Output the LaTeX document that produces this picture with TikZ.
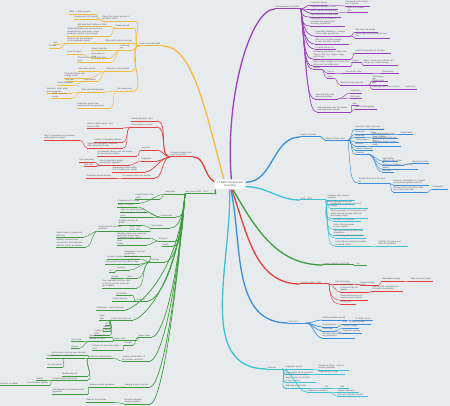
\documentclass[tikz,border=0pt]{standalone}
\usepackage{fontspec}
\setmainfont{Liberation Sans}
\definecolor{bg}{HTML}{E7EBEE}
\definecolor{txt}{HTML}{505559}
\definecolor{yelc}{HTML}{F6BA3C}
\definecolor{purc}{HTML}{9C3FBF}
\definecolor{redc}{HTML}{E2403F}
\definecolor{grnc}{HTML}{3E9C3E}
\definecolor{bluc}{HTML}{3B8EDB}
\definecolor{cync}{HTML}{3FC0D3}

\begin{document}
\begin{tikzpicture}[x=1pt,y=1pt,
  tp/.style={font=\fontsize{2.1}{2.9}\selectfont, text=txt, inner xsep=0.3pt, inner ysep=0.45pt, align=left},
  uline/.style={append after command={(\tikzlastnode.south west) edge[draw=#1, line width=0.45pt] (\tikzlastnode.south east)}},
  mline/.style={append after command={(\tikzlastnode.south west) edge[draw=#1, line width=1pt] (\tikzlastnode.south east)}},
  lt/.style={tp, anchor=south east, uline=#1},
  rt/.style={tp, anchor=south west, uline=#1},
  lm/.style={tp, anchor=south east, mline=#1},
  rm/.style={tp, anchor=south west, mline=#1},
  l1/.style={draw=#1, line width=1.3pt},
  l2/.style={draw=#1, line width=0.7pt},
  l3/.style={draw=#1, line width=0.45pt},
  lc/.style={out=180,in=0,looseness=0.8},
  rc/.style={out=0,in=180,looseness=0.8},
  gd/.style={out=-95,in=0,out distance=#1,in distance=8pt},
  pd/.style={out=-85,in=180,out distance=#1,in distance=8pt},
]
\path[use as bounding box, fill=bg] (0,0) rectangle (450,-406);

% centre
\node[fill=white, draw=black!12, rounded corners=1.5pt, font=\fontsize{2.8}{3.4}\selectfont, text=txt,
  align=center, minimum width=31pt, minimum height=10pt, inner sep=0.5pt] (core) at (230,-184.5)
  {7.7 Billion People and\\Counting};

% yellow branch
\node[lm=yelc, text width=23pt] (y0) at (163,-46) {Logics of growth 1800};
\node[lt=yelc, text width=32pt] (y1) at (135,-21) {One of the fastest periods of\\growth in history};
\node[lt=yelc, text width=25pt] (y1a) at (95,-14) {1800 - 1 billion people};
\node[lt=yelc, text width=25pt] (y1b) at (100,-19) {Europe was 1/4 of world};
\node[lt=yelc, text width=17pt] (y2) at (133,-28) {Organic growth};
\node[lt=yelc, text width=32pt] (y2a) at (110,-26) {With less than 3 billion in 1950};
\node[lt=yelc, text width=42pt] (y2b) at (110,-36) {Global population was low and more\\people lived in rural areas. Food\\production limited to local needs};
\node[lt=yelc, text width=27pt] (y3) at (133,-43) {Where birth rate is reducing};
\node[lt=yelc, text width=32pt] (y3a) at (100,-43) {Based in the first world but\\not in population growth};
\node[lt=yelc, text width=6pt] (y3a1) at (60,-44) {Asia};
\node[lt=yelc, text width=10pt] (y3a2) at (60,-48) {Europe};
\node[lt=yelc, text width=11pt] (y4) at (132,-50) {Food supply};
\node[lt=yelc, text width=18pt] (y4a) at (110,-50) {Green revolution};
\node[lt=yelc, text width=18pt] (y4b) at (110,-58) {Economies of scale};
\node[lt=yelc, text width=14pt] (y4b1) at (82,-54) {Less 10 crops};
\node[lt=yelc, text width=34pt] (y4c) at (112,-62) {China the second largest grain store};
\node[lt=yelc, text width=25pt] (y5) at (132,-71) {Reasons for fast growth};
\node[lt=yelc, text width=18pt] (y5a) at (97,-71) {Fast urban growth};
\node[lt=yelc, text width=13pt] (y5b) at (98,-81) {Less deaths};
\node[lt=yelc, text width=25pt] (y5b1) at (90,-78) {Food abundance and\\change in diet};
\node[lt=yelc, text width=9pt] (y5b2) at (75,-81) {Birth rate};
\node[lt=yelc, text width=17pt] (y5b3) at (75,-85) {Living standards};
\node[lt=yelc, text width=15pt] (y6) at (133,-91) {Life expectancy};
\node[lt=yelc, text width=23pt] (y6a) at (105,-92) {Rose with development};
\node[lt=yelc, text width=25pt] (y6a1) at (72,-93) {Sanitation, clean water\\and vaccination};
\node[lt=yelc, text width=19pt] (y6a2) at (72,-98) {1950 - improvements};
\node[lt=yelc, text width=32pt] (y6b) at (110,-108) {Population growth rate\\compared to life expectancy};

\draw[l1=yelc] (core.140) to[out=105,in=0,out distance=70pt,in distance=30pt] (y0.south east);
\foreach \k in {y1,y2,y3,y4,y5,y6} \draw[l2=yelc] (y0.south west) to[lc] (\k.south east);
\foreach \k in {y1a,y1b} \draw[l3=yelc] (y1.south west) to[lc] (\k.south east);
\foreach \k in {y2a,y2b} \draw[l3=yelc] (y2.south west) to[lc] (\k.south east);
\draw[l3=yelc] (y3.south west) to[lc] (y3a.south east);
\foreach \k in {y3a1,y3a2} \draw[l3=yelc] (y3a.south west) to[lc] (\k.south east);
\foreach \k in {y4a,y4b,y4c} \draw[l3=yelc] (y4.south west) to[lc] (\k.south east);
\draw[l3=yelc] (y4b.south west) to[lc] (y4b1.south east);
\foreach \k in {y5a,y5b,y5b1} \draw[l3=yelc] (y5.south west) to[lc] (\k.south east);
\foreach \k in {y5b2,y5b3} \draw[l3=yelc] (y5b.south west) to[lc] (\k.south east);
\foreach \k in {y6a,y6b} \draw[l3=yelc] (y6.south west) to[lc] (\k.south east);
\foreach \k in {y6a1,y6a2} \draw[l3=yelc] (y6a.south west) to[lc] (\k.south east);

% purple branch
\node[rm=purc, text width=25pt] (p0) at (275,-9) {Consequences of growth};
\node[rt=purc, text width=17pt] (p1) at (310,-5) {Population figures};
\node[rt=purc, text width=24pt] (p1a) at (345,-6) {Compared to the fastest\\rate of growth};
\node[rt=purc, text width=27pt] (p2) at (310,-9) {Population density of cities};
\node[rt=purc, text width=27pt] (p3) at (310,-13) {Africa's people being young};
\node[rt=purc, text width=20pt] (p3a) at (347,-12) {Against economic data};
\node[rt=purc, text width=30pt] (p4) at (310,-17) {High population in third world};
\node[rt=purc, text width=34pt] (p5) at (310,-26) {Challenges for a number of\\countries with ageing and\\shrinking populations};
\node[rt=purc, text width=35pt] (p6) at (315,-36) {Population imbalance - younger\\versus older generations};
\node[rt=purc, text width=22pt] (p6a) at (355,-32) {Too many old people};
\node[rt=purc, text width=34pt] (p6b) at (355,-38) {Not enough young people to support};
\node[rt=purc, text width=33pt] (p7) at (315,-44) {With over 5.4 billion people\\in Asia and Africa together};
\node[rt=purc, text width=20pt] (p8) at (315,-49) {US birth rate at 2.2};
\node[rt=purc, text width=37pt] (p9) at (313,-59) {Increasing population in Africa and\\Asia to 2100 (e.g. Nigeria, Niger\\and Congo)};
\node[rt=purc, text width=35pt] (p9a) at (355,-53) {UN 2100 projection of 11 billion};
\node[rt=purc, text width=37pt] (p10) at (313,-66) {Half a million refugees in Europe from\\Africa and the Middle East};
\node[rt=purc, text width=8pt] (p10a) at (352,-62) {Cause};
\node[rt=purc, text width=34pt] (p10a1) at (363,-65) {Death in very poor and war torn\\nations (ex. South Sudan)};
\node[rt=purc, text width=7pt] (p11) at (313,-69) {Trends};
\node[rt=purc, text width=7pt] (p11a) at (327,-73) {Live in};
\node[rt=purc, text width=25pt] (p11a1) at (345,-73) {Forced into cities};
\node[rt=purc, text width=16pt] (p11a1a) at (382,-73) {Households};
\node[rt=purc, text width=6pt] (p11b) at (327,-78) {Work};
\node[rt=purc, text width=28pt] (p11b1) at (340,-85) {Women's lower pay rate};
\node[rt=purc, text width=15pt] (p11b1a) at (372,-81) {Closing pay gap};
\node[rt=purc, text width=15pt] (p11b1b) at (372,-85) {Closing jobs gap};
\node[rt=purc, text width=28pt] (p11b1c) at (372,-89) {Reducing work time in home};
\node[rt=purc, text width=11pt] (p11b1c1) at (405,-89) {Spent less};
\node[rt=purc, text width=22pt] (p12) at (315,-99) {Reducing birth rates\\ageing population};
\node[rt=purc, text width=11pt] (p12a) at (350,-93) {Population};
\node[rt=purc, text width=11pt] (p12b) at (350,-98) {Birth rates};
\node[rt=purc, text width=33pt] (p13) at (317,-112) {Reducing birth rates to stabilise\\world population growth};
\node[rt=purc, text width=6pt] (p13a) at (352,-105) {Asia};
\node[rt=purc, text width=21pt] (p13b) at (355,-109) {Shift of demography};

\draw[l1=purc] (core.75) to[out=95,in=180,out distance=80pt,in distance=25pt] (p0.south west);
\foreach \k in {p1,p2,p3} \draw[l2=purc] (p0.south east) to[rc] (\k.south west);
\foreach \k/\s in {p4/5,p5/12,p6/20,p7/27,p8/31,p9/39,p10/44,p11/47,p12/70,p13/80}
  \draw[l2=purc] (p0.south east) to[pd=\s pt] (\k.south west);
\draw[l3=purc] (p1.south east) to[rc] (p1a.south west);
\draw[l3=purc] (p3.south east) to[rc] (p3a.south west);
\foreach \k in {p6a,p6b} \draw[l3=purc] (p6.south east) to[rc] (\k.south west);
\draw[l3=purc] (p9.south east) to[rc] (p9a.south west);
\draw[l3=purc] (p10.south east) to[rc] (p10a.south west);
\draw[l3=purc] (p10a.south east) to[rc] (p10a1.south west);
\foreach \k in {p11a,p11b} \draw[l3=purc] (p11.south east) to[rc] (\k.south west);
\draw[l3=purc] (p11a.south east) to[rc] (p11a1.south west);
\draw[l3=purc] (p11a1.south east) to[rc] (p11a1a.south west);
\draw[l3=purc] (p11b.south east) to[rc] (p11b1.south west);
\foreach \k in {p11b1a,p11b1b,p11b1c} \draw[l3=purc] (p11b1.south east) to[rc] (\k.south west);
\draw[l3=purc] (p11b1c.south east) to[rc] (p11b1c1.south west);
\foreach \k in {p12a,p12b} \draw[l3=purc] (p12.south east) to[rc] (\k.south west);
\foreach \k in {p13a,p13b} \draw[l3=purc] (p13.south east) to[rc] (\k.south west);

% red branch
\node[lm=redc, text width=22pt] (r0) at (193,-157) {Personal situation and\\existing opinions};
\node[lt=redc, text width=25pt] (r1) at (157,-121) {World population clock};
\node[lt=redc, text width=25pt] (r2) at (157,-127) {Good reference points};
\node[lt=redc, text width=35pt] (r2a) at (123,-128) {Nearly 3 billion when I was\\born in 1960};
\node[lt=redc, text width=28pt] (r2b) at (123,-142) {Politics of 'Population Bomb'};
\node[lt=redc, text width=35pt] (r2c) at (123,-148) {Significant population slowdown\\with reducing birth rate};
\node[lt=redc, text width=35pt] (r2c1) at (80,-140) {Why? Population has increased\\and people live longer};
\node[lt=redc, text width=15pt] (r3) at (157,-150) {Key facts};
\node[lt=redc, text width=39pt] (r3a) at (137,-156) {UN research shows most rise during\\the development phase};
\node[lt=redc, text width=15pt] (r4) at (157,-161) {Population};
\node[lt=redc, text width=30pt] (r4a) at (130,-165) {How is population growth\\and decline regulated?};
\node[lt=redc, text width=15pt] (r4a1) at (95,-162) {Life expectancy};
\node[lt=redc, text width=12pt] (r4a2) at (97,-166) {Birth rate};
\node[lt=redc, text width=32pt] (r5) at (145,-172) {Replacement level fertility\\of 2.1 children per woman};
\node[lt=redc, text width=32pt] (r6) at (155,-178) {2.5 average births per woman};
\node[lt=redc, text width=28pt] (r6a) at (115,-178) {Population growth slowing};

\draw[l1=redc] (core.170) to[out=150,in=0] (r0.south east);
\foreach \k in {r1,r2,r3,r4,r5,r6} \draw[l2=redc] (r0.south west) to[lc] (\k.south east);
\foreach \k in {r2a,r2b,r2c} \draw[l3=redc] (r2.south west) to[lc] (\k.south east);
\draw[l3=redc] (r2c.south west) to[lc] (r2c1.south east);
\draw[l3=redc] (r3.south west) to[lc] (r3a.south east);
\draw[l3=redc] (r4.south west) to[lc] (r4a.south east);
\foreach \k in {r4a1,r4a2} \draw[l3=redc] (r4a.south west) to[lc] (\k.south east);
\draw[l3=redc] (r6.south west) to[lc] (r6a.south east);

% green branch
\node[lm=grnc, text width=29pt] (g0) at (215,-194) {Key issues 2050 - 2100};
\node[lt=grnc, text width=16pt] (g1) at (182,-194) {Megacities};
\node[lt=grnc, text width=24pt] (g1a) at (160,-199) {Largest cities of the world};
\node[lt=grnc, text width=21pt] (g1b) at (140,-203) {Population of 5 million};
\node[lt=grnc, text width=15pt] (g2) at (176,-217) {Urbanisation};
\node[lt=grnc, text width=19pt] (g2a) at (137,-207) {Tokyo: 37 million};
\node[lt=grnc, text width=26pt] (g2b) at (147,-212) {Cities as capital of wealth};
\node[lt=grnc, text width=29pt] (g2c) at (150,-217) {Cultural and economic influence};
\node[lt=grnc, text width=19pt] (g3) at (170,-228) {Consumption};
\node[lt=grnc, text width=24pt] (g3a) at (143,-225) {A global economy of growth};
\node[lt=grnc, text width=20pt] (g3c) at (150,-231) {2050 - 70\%\\2100 - 80\%};
\node[lt=grnc, text width=28pt] (g3b) at (127,-231) {Grows beyond local consumption};
\node[lt=grnc, text width=27pt] (g3b1) at (84,-237) {Higher levels of productivity\\than ever};
\node[lt=grnc, text width=29pt] (g3b2) at (86,-247) {Wealthy countries have\\consumption that outweighs\\what the world can sustain};
\node[lt=grnc, text width=16pt] (g4) at (175,-241) {Transport};
\node[lt=grnc, text width=32pt] (g4a) at (150,-238) {Wealthy nations use resources\\faster than poorer ones};
\node[lt=grnc, text width=29pt] (g4b) at (147,-245) {UN climate panel: reduce meat\\intake};
\node[lt=grnc, text width=10pt] (g5) at (173,-246) {Health};
\node[lt=grnc, text width=14pt] (g6) at (165,-262) {Economy};
\node[lt=grnc, text width=25pt] (g6a) at (150,-256) {Compared to previous\\generations};
\node[lt=grnc, text width=32pt] (g6b) at (140,-259) {Access to greater food supplies};
\node[lt=grnc, text width=34pt] (g6c) at (140,-264) {Poor people born into affluent lives};
\node[lt=grnc, text width=12pt] (g7) at (130,-270) {Security};
\node[lt=grnc, text width=5pt] (g7a) at (115,-272) {ID};
\node[lt=grnc, text width=10pt] (g8) at (138,-278) {Jobs};
\node[lt=grnc, text width=8pt] (g8a) at (120,-278) {Income};
\node[lt=grnc, text width=34pt] (g9) at (137,-288) {Over population and tax rates\\in Europe and the world will\\get crowded};
\node[lt=grnc, text width=11pt] (g10) at (148,-301) {Solutions};
\node[lt=grnc, text width=15pt] (g10a) at (132,-295) {Sterilisation};
\node[lt=grnc, text width=19pt] (g10b) at (132,-301) {Family planning};
\node[lt=grnc, text width=28pt] (g11) at (125,-310) {Challenges - Limits of growth};
\node[lt=grnc, text width=21pt] (g12) at (133,-320) {Cities with water risk};
\node[lt=grnc, text width=10pt] (g12a) at (110,-320) {Cape Town};
\node[lt=grnc, text width=4pt] (g12b) at (110,-325) {US};
\node[lt=grnc, text width=7pt] (g12c) at (111,-328) {Mexico};
\node[lt=grnc, text width=7pt] (g12d) at (111,-331) {Chennai};
\node[lt=grnc, text width=15pt] (g12e) at (110,-335) {London by 2040};
\node[lt=grnc, text width=13pt] (g13) at (152,-337) {Water stress};
\node[lt=grnc, text width=22pt] (g13a) at (137,-340) {Water crisis};
\node[lt=grnc, text width=22pt] (g13a1) at (112,-337) {Rainfall reduced};
\node[lt=grnc, text width=23pt] (g13a2) at (113,-341) {Drought in rivers};
\node[lt=grnc, text width=10pt] (g13a2a) at (82,-341) {Sao Paulo};
\node[lt=grnc, text width=8pt] (g13a2b) at (80,-348) {Karachi};
\node[lt=grnc, text width=8pt] (g13b) at (133,-345) {Drought};
\node[lt=grnc, text width=30pt] (g13b1) at (123,-350) {Limited rain and water reservoirs};
\node[lt=grnc, text width=27pt] (g15p) at (150,-361) {Soaring deforestation of\\the Amazon rainforest};
\node[lt=grnc, text width=23pt] (g15) at (113,-358) {Extensive deforestation};
\node[lt=grnc, text width=36pt] (g15a) at (88,-355) {Deforestation causing more droughts};
\node[lt=grnc, text width=18pt] (g15b) at (83,-358) {Agriculture};
\node[lt=grnc, text width=15pt] (g15b1) at (62,-358) {Cattle farming};
\node[lt=grnc, text width=15pt] (g15b2) at (63,-367) {Soy plantations};
\node[lt=grnc, text width=25pt] (g15c) at (88,-376) {Biodiversity loss};
\node[lt=grnc, text width=35pt] (g15d) at (88,-380) {Increased land destruction};
\node[lt=grnc, text width=8pt] (g15d1) at (45,-380) {Habitat};
\node[lt=grnc, text width=23pt] (g15d2) at (50,-385) {Loss of animal species};
\node[lt=grnc, text width=25pt] (g15d2a) at (25,-385) {Extinction of wildlife};
\node[lt=grnc, text width=25pt] (g17p) at (150,-387) {Needing a limit to growth};
\node[lt=grnc, text width=33pt] (g17) at (123,-387) {Maximum world population};
\node[lt=grnc, text width=35pt] (g17a) at (88,-394) {Consideration of maximum world\\population};
\node[lt=grnc, text width=25pt] (g18p) at (150,-404) {Estimate planetary\\carrying capacity};
\node[lt=grnc, text width=28pt] (g18) at (115,-402) {Reduce consumption};

\draw[l1=grnc] (core.200) to[out=200,in=0] (g0.south east);
\draw[l2=grnc] (g0.south west) to[lc] (g1.south east);
\foreach \k/\s in {g2/16,g3/25,g4/35,g5/39,g6/50,g10/80,g11/87,g12/95,g13/107,g15p/125,g17p/145,g18p/158}
  \draw[l2=grnc] (g0.south west) to[gd=\s pt] (\k.south east);
\foreach \k in {g1a,g1b} \draw[l3=grnc] (g1.south west) to[lc] (\k.south east);
\foreach \k in {g2a,g2b,g2c} \draw[l3=grnc] (g2.south west) to[lc] (\k.south east);
\foreach \k in {g3a,g3c} \draw[l3=grnc] (g3.south west) to[lc] (\k.south east);
\draw[l3=grnc] (g3c.south west) to[lc] (g3b.south east);
\foreach \k in {g3b1,g3b2} \draw[l3=grnc] (g3b.south west) to[lc] (\k.south east);
\foreach \k in {g4a,g4b} \draw[l3=grnc] (g4.south west) to[lc] (\k.south east);
\foreach \k in {g6a,g6b,g6c,g7,g8,g9} \draw[l3=grnc] (g6.south west) to[lc] (\k.south east);
\draw[l3=grnc] (g7.south west) to[lc] (g7a.south east);
\draw[l3=grnc] (g8.south west) to[lc] (g8a.south east);
\foreach \k in {g10a,g10b} \draw[l3=grnc] (g10.south west) to[lc] (\k.south east);
\foreach \k in {g12a,g12b,g12c,g12d,g12e} \draw[l3=grnc] (g12.south west) to[lc] (\k.south east);
\foreach \k in {g13a,g13b} \draw[l3=grnc] (g13.south west) to[lc] (\k.south east);
\foreach \k in {g13a1,g13a2} \draw[l3=grnc] (g13a.south west) to[lc] (\k.south east);
\foreach \k in {g13a2a,g13a2b} \draw[l3=grnc] (g13a2.south west) to[lc] (\k.south east);
\draw[l3=grnc] (g13b.south west) to[lc] (g13b1.south east);
\draw[l3=grnc] (g15p.south west) to[lc] (g15.south east);
\foreach \k in {g15a,g15b,g15c,g15d} \draw[l3=grnc] (g15.south west) to[lc] (\k.south east);
\foreach \k in {g15b1,g15b2} \draw[l3=grnc] (g15b.south west) to[lc] (\k.south east);
\foreach \k in {g15d1,g15d2} \draw[l3=grnc] (g15d.south west) to[lc] (\k.south east);
\draw[l3=grnc] (g15d2.south west) to[lc] (g15d2a.south east);
\draw[l3=grnc] (g17p.south west) to[lc] (g17.south east);
\draw[l3=grnc] (g17.south west) to[lc] (g17a.south east);
\draw[l3=grnc] (g18p.south west) to[lc] (g18.south east);

% blue branch
\node[rm=bluc, text width=20pt] (b0) at (300,-137) {Logics of decline};
\node[rt=bluc, text width=22pt] (b1) at (325,-140) {Drivers of birth rates};
\node[rt=bluc, text width=28pt] (b1a) at (355,-129) {High birth rates in poverty};
\node[rt=bluc, text width=9pt] (b1b) at (355,-134) {Economy};
\node[rt=bluc, text width=18pt] (b1b1) at (370,-134) {Empowering females};
\node[rt=bluc, text width=12pt] (b1b1a) at (400,-134) {Power shifts};
\node[rt=bluc, text width=9pt] (b1c) at (355,-137) {Education};
\node[rt=bluc, text width=25pt] (b1c1) at (372,-138) {Educated females have\\fewer children};
\node[rt=bluc, text width=13pt] (b1d) at (355,-142) {Contraception};
\node[rt=bluc, text width=26pt] (b1d1) at (372,-142) {Wanted and planned children};
\node[rt=bluc, text width=10pt] (b1e) at (355,-146) {Mortality};
\node[rt=bluc, text width=28pt] (b1e1) at (372,-146) {Significant drops in infant death};
\node[rt=bluc, text width=17pt] (b1f) at (355,-150) {Labour conditions};
\node[rt=bluc, text width=12pt] (b1g) at (355,-154) {Tradition};
\node[rt=bluc, text width=15pt] (b1g1) at (382,-161) {High fertility};
\node[rt=bluc, text width=21pt] (b1g2) at (382,-165) {Women's role in family};
\node[rt=bluc, text width=16pt] (b1g2a) at (412,-163) {Gendered norms};
\node[rt=bluc, text width=35pt] (b1g3) at (382,-169) {Influence of religion - controlling women};
\node[rt=bluc, text width=11pt] (b1g4) at (382,-172) {Not fixed};
\node[rt=bluc, text width=30pt] (b2) at (358,-183) {Slowed birth rate in the west but};
\node[rt=bluc, text width=35pt] (b2a) at (393,-185) {However, immigration is a quarter\\of population growth in the UK};
\node[rt=bluc, text width=34pt] (b2b) at (393,-192) {Governments in the West make\\up for lower birth rate};
\node[rt=bluc, text width=15pt] (b2b1) at (432,-189) {Immigration};

\draw[l1=bluc] (core.8) to[out=0,in=180] (b0.south west);
\draw[l2=bluc] (b0.south east) to[rc] (b1.south west);
\foreach \k in {b1a,b1b,b1c,b1d,b1e,b1f,b1g} \draw[l3=bluc] (b1.south east) to[rc] (\k.south west);
\draw[l3=bluc] (b1.south east) to[pd=30pt] (b2.south west);
\draw[l3=bluc] (b1b.south east) to[rc] (b1b1.south west);
\draw[l3=bluc] (b1b1.south east) to[rc] (b1b1a.south west);
\draw[l3=bluc] (b1c.south east) to[rc] (b1c1.south west);
\draw[l3=bluc] (b1d.south east) to[rc] (b1d1.south west);
\draw[l3=bluc] (b1e.south east) to[rc] (b1e1.south west);
\foreach \k in {b1g1,b1g2,b1g3,b1g4} \draw[l3=bluc] (b1g.south east) to[rc] (\k.south west);
\draw[l3=bluc] (b1g2.south east) to[rc] (b1g2a.south west);
\foreach \k in {b2a,b2b} \draw[l3=bluc] (b2.south east) to[rc] (\k.south west);
\draw[l3=bluc] (b2b.south east) to[rc] (b2b1.south west);

% cyan branch
\node[rm=cync, text width=25pt] (c0) at (300,-200) {2018 - 2050};
\node[rt=cync, text width=27pt] (c1) at (327,-200) {Problems with overconsumption};
\node[rt=cync, text width=27pt] (c2) at (327,-204) {Electrical power from coal};
\node[rt=cync, text width=37pt] (c3) at (330,-208) {Fossil fuels as primary source of\\energy};
\node[rt=cync, text width=37pt] (c4) at (330,-218) {Weak economies of Central Africa and\\South Asia will struggle with food\\and energy supply};
\node[rt=cync, text width=27pt] (c5) at (333,-221) {Increase in sea levels};
\node[rt=cync, text width=29pt] (c6) at (333,-229) {Lack of drinking water\\in poor regions};
\node[rt=cync, text width=30pt] (c7) at (333,-235) {Too much carbon dioxide in the\\atmosphere};
\node[rt=cync, text width=30pt] (c8) at (335,-238) {Increasing global temperature};
\node[rt=cync, text width=35pt] (c9) at (335,-246) {Less and less rainforest remains\\to absorb carbon};
\node[rt=cync, text width=29pt] (c9a) at (378,-246) {Pollution of oceans and\\rivers from plastics};

\draw[l1=cync] (core.-8) to[out=0,in=180] (c0.south west);
\foreach \k in {c1,c2,c3} \draw[l3=cync] (c0.south east) to[rc] (\k.south west);
\foreach \k/\s in {c4/12,c5/15,c6/21,c7/26,c8/28,c9/34}
  \draw[l3=cync] (c0.south east) to[pd=\s pt] (\k.south west);
\draw[l3=cync] (c9.south east) to[rc] (c9a.south west);

% dark green branch
\node[rm=grnc, text width=30pt] (d0) at (323,-265) {Lowest estimate 2050/2100};
\node[rt=grnc, text width=10pt] (d1) at (356,-265) {UK};
\draw[l1=grnc] (core.-60) to[out=-60,in=180] (d0.south west);
\draw[l3=grnc] (d0.south east) to[rc] (d1.south west);

% second red branch
\node[rm=redc, text width=28pt] (s0) at (300,-284) {Solutions 2018 - 2030};
\node[rt=redc, text width=17pt] (s1) at (335,-284) {Key technology};
\node[rt=redc, text width=18pt] (s1a) at (360,-285) {Nuclear energy};
\node[rt=redc, text width=21pt] (s1a1) at (382,-281) {Renewable energy};
\node[rt=redc, text width=22pt] (s1a1a) at (410,-281) {Solar and wind power};
\node[rt=redc, text width=28pt] (s2) at (340,-292) {Against rapid consumption\\in the world by the\\wealthy};
\node[rt=redc, text width=30pt] (s2a) at (372,-291) {High income countries have\\to reduce consumption};
\node[rt=redc, text width=27pt] (s3) at (340,-300) {Finds and resources to\\support poorer nations};
\node[rt=redc, text width=15pt] (s4) at (340,-304) {Create jobs};

\draw[l1=redc] (core.-72) to[out=-70,in=180] (s0.south west);
\foreach \k in {s1,s2} \draw[l3=redc] (s0.south east) to[rc] (\k.south west);
\foreach \k/\s in {s3/10,s4/13} \draw[l3=redc] (s0.south east) to[pd=\s pt] (\k.south west);
\draw[l3=redc] (s1.south east) to[rc] (s1a.south west);
\draw[l3=redc] (s1a.south east) to[rc] (s1a1.south west);
\draw[l3=redc] (s1a1.south east) to[rc] (s1a1a.south west);
\draw[l3=redc] (s2.south east) to[rc] (s2a.south west);

% second blue branch
\node[rm=bluc, text width=17pt] (u0) at (288,-323) {Planet 2.0};
\node[rt=bluc, text width=24pt] (u1) at (322,-320) {World population growth};
\node[rt=bluc, text width=17pt] (u1a) at (355,-320) {1.7 billion more};
\node[rt=bluc, text width=15pt] (u2) at (322,-327) {UN projections};
\node[rt=bluc, text width=28pt] (u2a) at (342,-324) {2050 - 10 billion people};
\node[rt=bluc, text width=12pt] (u3) at (322,-331) {Challenges};
\node[rt=bluc, text width=16pt] (u3a) at (342,-328) {Climate change};
\node[rt=bluc, text width=19pt] (u3b) at (342,-333) {Population ageing};
\node[rt=bluc, text width=32pt] (u4) at (322,-338) {Are there more ways to reduce\\our population?};

\draw[l1=bluc] (core.-80) to[out=-78,in=180] (u0.south west);
\foreach \k in {u1,u2,u3,u4} \draw[l2=bluc] (u0.south east) to[rc] (\k.south west);
\draw[l3=bluc] (u1.south east) to[rc] (u1a.south west);
\draw[l3=bluc] (u2.south east) to[rc] (u2a.south west);
\foreach \k in {u3a,u3b} \draw[l3=bluc] (u3.south east) to[rc] (\k.south west);

% second cyan branch
\node[rm=cync, text width=14pt] (w0) at (267,-369) {Solutions};
\node[rt=cync, text width=27pt] (w1) at (285,-369) {Population control};
\node[rt=cync, text width=30pt] (w1a) at (318,-370) {Outside of China - cycle of\\human population};
\node[rt=cync, text width=30pt] (w2) at (285,-374) {Urbanisation and 2 continents};
\node[rt=cync, text width=26pt] (w2a) at (318,-374) {Engineering of crops};
\node[rt=cync, text width=30pt] (w3) at (285,-382) {Temperature rise of two\\degree Celsius from 2030\\or even sooner};
\node[rt=cync, text width=23pt] (w4) at (285,-388) {Reducing meat intake};
\node[rt=cync, text width=6pt] (w4a) at (325,-388) {EU};
\node[rt=cync, text width=8pt] (w4a1) at (340,-388) {Diet};
\node[rt=cync, text width=21pt] (w5) at (307,-392) {Problems or solutions};
\node[rt=cync, text width=21pt] (w5a) at (337,-392) {Carbon emissions};
\node[rt=cync, text width=30pt] (w5b) at (337,-396) {Birth rate reduction needed};

\draw[l1=cync] (core.-95) to[out=-88,in=180] (w0.south west);
\foreach \k in {w1,w2,w3,w4,w5} \draw[l2=cync] (w0.south east) to[rc] (\k.south west);
\draw[l3=cync] (w1.south east) to[rc] (w1a.south west);
\draw[l3=cync] (w2.south east) to[rc] (w2a.south west);
\draw[l3=cync] (w4.south east) to[rc] (w4a.south west);
\draw[l3=cync] (w4a.south east) to[rc] (w4a1.south west);
\foreach \k in {w5a,w5b} \draw[l3=cync] (w5.south east) to[rc] (\k.south west);
\end{tikzpicture}
\end{document}
